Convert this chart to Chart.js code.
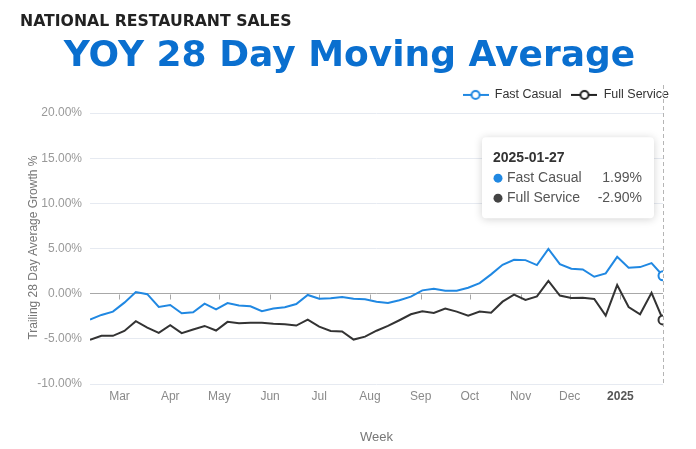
<!DOCTYPE html>
<html><head><meta charset="utf-8">
<script src="https://cdn.jsdelivr.net/npm/chart.js@4"></script>
<style>html,body{margin:0;padding:0;background:#fff;}canvas{display:block}</style>
</head><body>
<canvas id="c" width="696" height="449"></canvas>
<script>
const weeks = ['2024-02-12','2024-02-19','2024-02-26','2024-03-04','2024-03-11','2024-03-18','2024-03-25',
 '2024-04-01','2024-04-08','2024-04-15','2024-04-22','2024-04-29','2024-05-06','2024-05-13','2024-05-20','2024-05-27',
 '2024-06-03','2024-06-10','2024-06-17','2024-06-24','2024-07-01','2024-07-08','2024-07-15','2024-07-22','2024-07-29',
 '2024-08-05','2024-08-12','2024-08-19','2024-08-26','2024-09-02','2024-09-09','2024-09-16','2024-09-23','2024-09-30',
 '2024-10-07','2024-10-14','2024-10-21','2024-10-28','2024-11-04','2024-11-11','2024-11-18','2024-11-25',
 '2024-12-02','2024-12-09','2024-12-16','2024-12-23','2024-12-30','2025-01-06','2025-01-13','2025-01-20','2025-01-27'];
const fastCasual = [-2.87,-2.35,-1.98,-0.99,0.19,-0.05,-1.47,-1.25,-2.17,-2.05,-1.10,-1.73,-1.03,-1.30,-1.39,-1.94,
 -1.65,-1.50,-1.14,-0.14,-0.55,-0.51,-0.36,-0.55,-0.62,-0.90,-1.03,-0.73,-0.33,0.37,0.55,0.33,0.33,0.66,1.18,2.14,
 3.20,3.75,3.72,3.17,4.97,3.28,2.76,2.69,1.88,2.25,4.08,2.87,2.95,3.39,1.99];
const fullService = [-5.10,-4.67,-4.67,-4.12,-3.05,-3.75,-4.34,-3.49,-4.37,-3.97,-3.57,-4.08,-3.12,-3.27,-3.23,-3.23,
 -3.34,-3.38,-3.53,-2.87,-3.64,-4.12,-4.19,-5.08,-4.75,-4.10,-3.57,-2.94,-2.28,-1.95,-2.13,-1.65,-1.98,-2.43,-1.98,-2.10,
 -0.88,-0.10,-0.68,-0.30,1.43,-0.20,-0.47,-0.44,-0.59,-2.43,0.96,-1.47,-2.28,0.10,-2.90];
const monthTicks = ['2024-03-01','2024-04-01','2024-05-01','2024-06-01','2024-07-01','2024-08-01','2024-09-01',
 '2024-10-01','2024-11-01','2024-12-01','2025-01-01'];
const monthLabels = ['Mar','Apr','May','Jun','Jul','Aug','Sep','Oct','Nov','Dec','2025'];
const yTicks = [-10,-5,0,5,10,15,20];
const seriesNames = ['Fast Casual','Full Service'];

const DAY = 86400000;
const t0 = Date.parse(weeks[0]);
const dayOf = s => (Date.parse(s) - t0) / DAY;
const xs = weeks.map(dayOf);
const tickPos = monthTicks.map(dayOf);
const last = weeks.length - 1;
const BLUE = '#2088e2', DARK = '#333333';
const FONT = "'Liberation Sans', Arial, Helvetica, sans-serif";

function marker(color){
  const c = document.createElement('canvas'); c.width = 26; c.height = 12;
  const g = c.getContext('2d');
  g.strokeStyle = color; g.lineWidth = 2;
  g.beginPath(); g.moveTo(0,6); g.lineTo(26,6); g.stroke();
  g.beginPath(); g.arc(13,6,4,0,Math.PI*2); g.fillStyle='#fff'; g.fill(); g.stroke();
  return c;
}
const markers = [marker(BLUE), marker('#222')];

const extras = {
  id: 'extras',
  beforeDatasetsDraw(chart){
    const {ctx, chartArea, scales:{x, y}} = chart;
    const px = Math.round(x.getPixelForValue(xs[last])) + 0.5;
    ctx.save();
    ctx.strokeStyle = '#b5b5b5'; ctx.lineWidth = 1; ctx.setLineDash([4,3]);
    ctx.beginPath(); ctx.moveTo(px, 85); ctx.lineTo(px, chartArea.bottom); ctx.stroke();
    ctx.setLineDash([]);
    const y0 = Math.round(y.getPixelForValue(0)) + 0.5;
    ctx.strokeStyle = '#a8a8a8';
    tickPos.forEach(v => {
      const tx = Math.round(x.getPixelForValue(v)) + 0.5;
      ctx.beginPath(); ctx.moveTo(tx, y0); ctx.lineTo(tx, y0 + 5); ctx.stroke();
    });
    ctx.restore();
  },
  afterDraw(chart){
    const {ctx, scales:{x, y}} = chart;
    const px = x.getPixelForValue(xs[last]);
    const w = 172, h = 81;
    const bx = px - 9 - w, by = y.getPixelForValue(yTicks[yTicks.length - 1]) + 24;
    ctx.save();
    ctx.shadowColor = 'rgba(0,0,0,0.18)'; ctx.shadowBlur = 8; ctx.shadowOffsetY = 1;
    ctx.fillStyle = '#fff';
    ctx.beginPath(); ctx.roundRect(bx, by, w, h, 4); ctx.fill();
    ctx.restore();
    ctx.save();
    ctx.textBaseline = 'middle';
    ctx.fillStyle = '#333'; ctx.font = 'bold 14px ' + FONT; ctx.textAlign = 'left';
    ctx.fillText(weeks[last], bx + 11, by + 21);
    const rows = [[seriesNames[0], fastCasual[last], BLUE], [seriesNames[1], fullService[last], '#444']];
    rows.forEach((r, i) => {
      const ry = by + 41 + i * 20;
      ctx.fillStyle = r[2]; ctx.beginPath(); ctx.arc(bx + 16, ry, 4.5, 0, Math.PI*2); ctx.fill();
      ctx.font = '14px ' + FONT; ctx.fillStyle = '#555'; ctx.textAlign = 'left';
      ctx.fillText(r[0], bx + 25, ry);
      ctx.textAlign = 'right';
      ctx.fillText(r[1].toFixed(2) + '%', bx + w - 12, ry);
    });
    ctx.restore();
  }
};

const mk = (vals) => vals.map((v, i) => ({x: xs[i], y: v}));

new Chart(document.getElementById('c'), {
  type: 'line',
  data: {
    datasets: [
      {label: seriesNames[0], data: mk(fastCasual), borderColor: BLUE, backgroundColor: '#fff', borderWidth: 2,
       pointRadius: c => c.dataIndex === last ? 4.5 : 0, pointBorderWidth: 2, pointBackgroundColor: '#fff', pointBorderColor: BLUE, tension: 0},
      {label: seriesNames[1], data: mk(fullService), borderColor: DARK, backgroundColor: '#fff', borderWidth: 2,
       pointRadius: c => c.dataIndex === last ? 4.5 : 0, pointBorderWidth: 2, pointBackgroundColor: '#fff', pointBorderColor: DARK, tension: 0}
    ]
  },
  options: {
    responsive: false, animation: false, devicePixelRatio: 1,
    layout: {padding: {top: 2, left: 20, right: 17, bottom: 0}},
    plugins: {
      title: {display: true, text: 'NATIONAL RESTAURANT SALES', align: 'start', color: '#222',
        font: {family: "'DejaVu Sans', sans-serif", size: 15.7, weight: 'bold', lineHeight: 1.2}, padding: {top: 11, bottom: 0}},
      subtitle: {display: true, text: 'YOY 28 Day Moving Average', align: 'center', color: '#0a6fcf',
        font: {family: "'DejaVu Sans', sans-serif", size: 36, weight: 'bold', lineHeight: 1.2}, padding: {top: 3.6, bottom: 0}},
      legend: {display: true, position: 'top', align: 'end',
        labels: {usePointStyle: true, pointStyleWidth: 26, padding: 10, color: '#333', font: {family: FONT, size: 12.5},
          generateLabels: chart => chart.data.datasets.map((ds, i) => ({text: ds.label, fillStyle: ds.borderColor,
            strokeStyle: ds.borderColor, lineWidth: 0, pointStyle: markers[i], hidden: false, datasetIndex: i, fontColor: '#333'}))}},
      tooltip: {enabled: false}
    },
    scales: {
      x: {type: 'linear', min: 0, max: xs[last],
        afterBuildTicks: s => { s.ticks = tickPos.map(v => ({value: v})); },
        afterFit: s => { s.height = 65; },
        grid: {display: false, drawTicks: false}, border: {display: false},
        ticks: {padding: 5, autoSkip: false, maxRotation: 0,
          callback: (v, i) => monthLabels[i],
          color: c => c.index === monthLabels.length - 1 ? '#555' : '#8a8a8a',
          font: c => ({family: FONT, size: 12, weight: c.index === monthLabels.length - 1 ? 'bold' : 'normal'})},
        title: {display: true, text: 'Week', color: '#777', font: {family: FONT, size: 13}, padding: {top: 0, bottom: 4}}},
      y: {type: 'linear', min: -10, max: 20.22,
        afterBuildTicks: s => { s.ticks = yTicks.map(v => ({value: v})); },
        afterFit: s => { s.width = 70; },
        grid: {drawTicks: false, color: c => c.tick && c.tick.value === 0 ? '#a8a8a8' : '#e6eaf1', lineWidth: 1},
        border: {display: false},
        ticks: {padding: 8, color: '#999', font: {family: FONT, size: 12}, callback: v => v.toFixed(2) + '%'},
        title: {display: true, text: 'Trailing 28 Day Average Growth %', color: '#777', font: {family: FONT, size: 12}, padding: {top: 6, bottom: 0}}},
      yR: {type: 'linear', position: 'right', display: true,
        afterFit: s => { s.width = 16; },
        grid: {display: false, drawTicks: false}, border: {display: false}, ticks: {display: false}}
    }
  },
  plugins: [extras]
});
</script>
</body></html>
